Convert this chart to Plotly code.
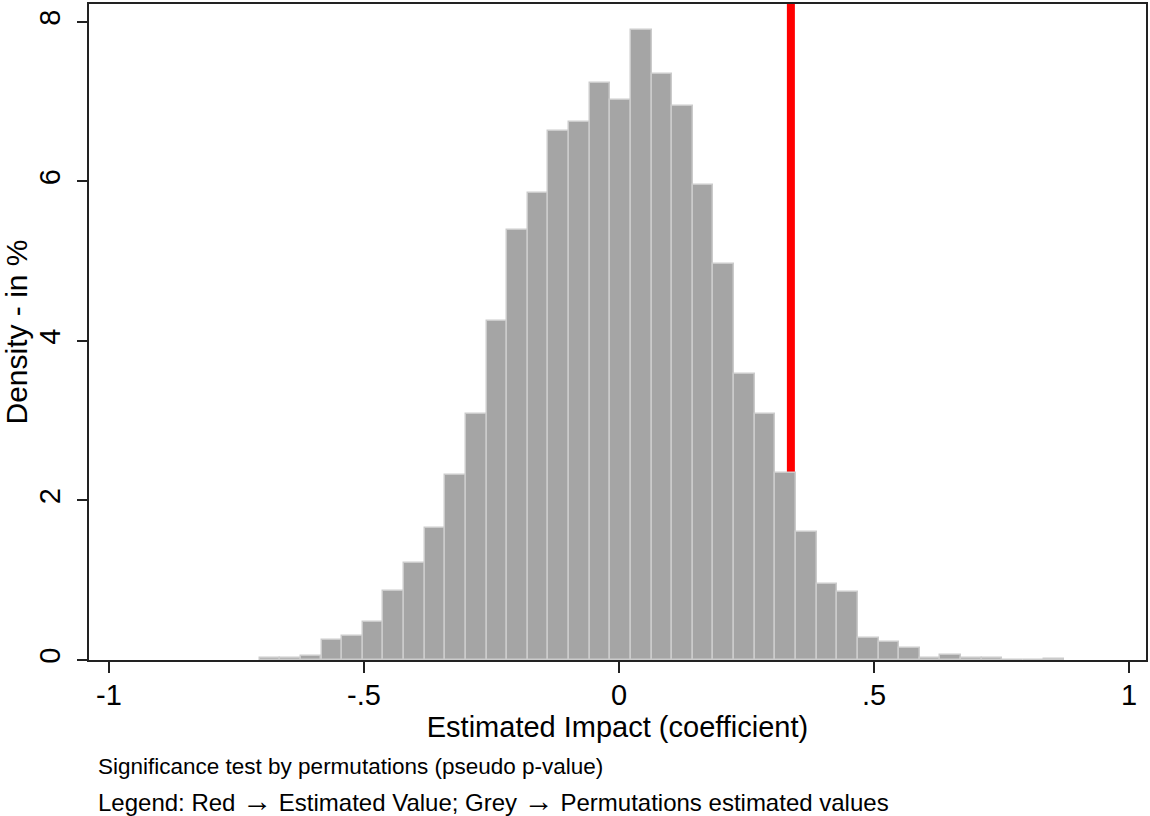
import plotly.graph_objects as go

# ---- data ----
bin_centers = [-0.6845, -0.6440, -0.6036, -0.5631, -0.5227, -0.4822, -0.4418, -0.4013,
               -0.3609, -0.3204, -0.2800, -0.2395, -0.1991, -0.1586, -0.1182, -0.0777,
               -0.0373, 0.0032, 0.0436, 0.0841, 0.1245, 0.1650, 0.2054, 0.2459,
               0.2863, 0.3268, 0.3672, 0.4077, 0.4481, 0.4886, 0.5290, 0.5695,
               0.6099, 0.6504, 0.6908, 0.7313, 0.7717, 0.8122, 0.8526]
density_pct = [0.025, 0.025, 0.05, 0.25, 0.30, 0.48, 0.86, 1.22,
               1.65, 2.32, 3.08, 4.25, 5.39, 5.85, 6.63, 6.74,
               7.24, 7.02, 7.90, 7.35, 6.95, 5.95, 4.97, 3.58,
               3.09, 2.35, 1.60, 0.95, 0.85, 0.27, 0.22, 0.15,
               0.02, 0.065, 0.025, 0.025, 0.0, 0.0, 0.012]
bin_width = 0.0404
estimated_value = 0.337

x_tickvals = [-1, -0.5, 0, 0.5, 1]
x_ticktext = ["-1", "-.5", "0", ".5", "1"]
y_tickvals = [0, 2, 4, 6, 8]
y_ticktext = ["0", "2", "4", "6", "8"]

FONT = "Arial, Liberation Sans, sans-serif"
ARROW = "<span style=\"font-size:30px\">\u2192</span>"

fig = go.Figure()
fig.add_trace(go.Bar(
    x=bin_centers, y=density_pct, width=bin_width,
    marker=dict(color="#a5a5a5", line=dict(color="#cbcbcb", width=1.5)),
    showlegend=False, hoverinfo="x+y",
))

fig.add_shape(type="line", xref="x", yref="paper",
              x0=estimated_value, x1=estimated_value, y0=0, y1=1,
              line=dict(color="#ff0000", width=8), layer="below")

axis_common = dict(showline=True, linecolor="#222222", linewidth=1.5, mirror=True,
                   ticks="outside", tickcolor="#222222", tickwidth=1.5,
                   showgrid=False, zeroline=False,
                   tickfont=dict(family=FONT, size=29, color="#000000"))

fig.update_xaxes(range=[-1.0392, 1.0333], tickvals=x_tickvals, ticktext=x_ticktext,
                 ticklen=11, ticklabelstandoff=-3,
                 title=dict(text="Estimated Impact (coefficient)", standoff=0,
                            font=dict(family=FONT, size=29, color="#000000")),
                 **axis_common)
fig.update_yaxes(range=[0, 8.225], tickvals=y_tickvals, ticktext=y_ticktext,
                 ticklen=10, tickangle=-90, ticklabelstandoff=6,
                 title=dict(text="Density - in %", standoff=2,
                            font=dict(family=FONT, size=30, color="#000000")),
                 **axis_common)

fig.add_annotation(xref="paper", yref="paper", x=0.0066, y=-0.1626,
                   xanchor="left", yanchor="middle", showarrow=False,
                   text="Significance test by permutations (pseudo p-value)",
                   font=dict(family=FONT, size=22.5, color="#000000"))
fig.add_annotation(xref="paper", yref="paper", x=0.0066, y=-0.2143,
                   xanchor="left", yanchor="middle", showarrow=False,
                   text="Legend: Red " + ARROW + " Estimated Value; Grey " + ARROW
                        + " Permutations estimated values",
                   font=dict(family=FONT, size=24, color="#000000"))

fig.update_layout(width=1150, height=816,
                  margin=dict(l=89, r=3, t=2, b=156),
                  paper_bgcolor="white", plot_bgcolor="white",
                  bargap=0, showlegend=False)

fig.write_html("out.html", config={"displayModeBar": False},
               post_script="document.body.style.margin='0';document.body.style.overflow='hidden';")
